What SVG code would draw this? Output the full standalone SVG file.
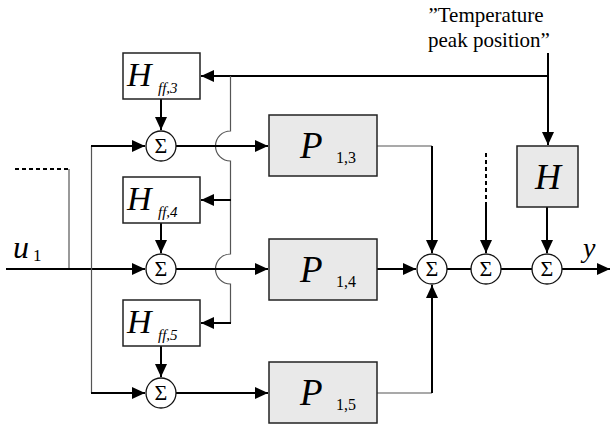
<svg xmlns="http://www.w3.org/2000/svg" width="610" height="425" viewBox="0 0 610 425">
<style>
.box{fill:#ffffff;stroke:#222;stroke-width:1.5}
.gbox{fill:#e9e9e9;stroke:#222;stroke-width:1.5}
.sum{fill:#ffffff;stroke:#111;stroke-width:1.3}
.thick{fill:none;stroke:#000;stroke-width:2}
.thin{fill:none;stroke:#555;stroke-width:1.2}
.dash{fill:none;stroke:#000;stroke-width:2;stroke-dasharray:4 3}
.it{font-family:"Liberation Serif","Times New Roman",Times,serif;font-style:italic;fill:#000}
.rm{font-family:"Liberation Serif","Times New Roman",Times,serif;fill:#000}
.sig{font-family:"Liberation Serif","Times New Roman",Times,serif;font-size:22px;text-anchor:middle;fill:#000}
</style>
<defs>
<marker id="ar" markerWidth="13" markerHeight="12" refX="13" refY="6" orient="auto" markerUnits="userSpaceOnUse">
<path d="M0,0 L13,6 L0,12 Z" fill="#000"/>
</marker>
</defs>

<g id="connectors">
<path class="thick" d="M548,53 V76 H201" marker-end="url(#ar)"/>
<path class="thick" d="M548,76 V145" marker-end="url(#ar)"/>
<path class="thin" d="M230.5,76 V131 A15,15 0 0 0 230.5,161 V254 A15,15 0 0 0 230.5,284 V323"/>
<path class="thick" d="M231,200 H201" marker-end="url(#ar)"/>
<path class="thick" d="M231,323 H201" marker-end="url(#ar)"/>
<path class="thick" d="M161,99 V130" marker-end="url(#ar)"/>
<path class="thick" d="M161,223 V253" marker-end="url(#ar)"/>
<path class="thick" d="M161,346 V377" marker-end="url(#ar)"/>
<path class="dash" d="M15,169 H69"/>
<path class="thin" d="M69,169 V269"/>
<path class="thick" d="M6,269 H145" marker-end="url(#ar)"/>
<path class="thin" d="M91.5,146 V393"/>
<path class="thick" d="M91,146 H145" marker-end="url(#ar)"/>
<path class="thick" d="M91,393 H145" marker-end="url(#ar)"/>
<path class="thick" d="M176,146 H268" marker-end="url(#ar)"/>
<path class="thick" d="M176,269 H268" marker-end="url(#ar)"/>
<path class="thick" d="M176,393 H268" marker-end="url(#ar)"/>
<path class="thin" d="M377,146 H432"/>
<path class="thick" d="M432,146 V253" marker-end="url(#ar)"/>
<path class="thick" d="M377,269 H416" marker-end="url(#ar)"/>
<path class="thin" d="M377,393 H432"/>
<path class="thick" d="M432,393 V285" marker-end="url(#ar)"/>
<path class="thick" d="M447,269 H471"/>
<path class="thick" d="M501,269 H532"/>
<path class="thick" d="M562,269 H610" marker-end="url(#ar)"/>
<path class="dash" d="M486,153 V203"/>
<path class="thick" d="M486,202 V253" marker-end="url(#ar)"/>
<path class="thick" d="M547,207 V253" marker-end="url(#ar)"/>
</g>

<g id="Hff3"><rect class="box" x="123" y="53" width="77" height="46"/>
<text class="it" x="127" y="86" font-size="34">H</text><text class="it" x="158" y="93" font-size="15">ff,3</text></g>
<g id="Hff4"><rect class="box" x="123" y="177" width="77" height="46"/>
<text class="it" x="127" y="210" font-size="34">H</text><text class="it" x="158" y="217" font-size="15">ff,4</text></g>
<g id="Hff5"><rect class="box" x="123" y="300" width="77" height="46"/>
<text class="it" x="127" y="333" font-size="34">H</text><text class="it" x="158" y="340" font-size="15">ff,5</text></g>

<g id="sum1"><circle class="sum" cx="161" cy="146" r="15"/><text class="sig" x="161" y="153">Σ</text></g>
<g id="sum2"><circle class="sum" cx="161" cy="269" r="15"/><text class="sig" x="161" y="276">Σ</text></g>
<g id="sum3"><circle class="sum" cx="161" cy="393" r="15"/><text class="sig" x="161" y="400">Σ</text></g>

<g id="P13"><rect class="gbox" x="269" y="115" width="108" height="61"/>
<text class="it" x="300" y="158" font-size="37">P</text><text class="rm" x="336" y="163" font-size="16">1,3</text></g>
<g id="P14"><rect class="gbox" x="269" y="239" width="108" height="61"/>
<text class="it" x="300" y="282" font-size="37">P</text><text class="rm" x="336" y="287" font-size="16">1,4</text></g>
<g id="P15"><rect class="gbox" x="269" y="362" width="108" height="61"/>
<text class="it" x="300" y="405" font-size="37">P</text><text class="rm" x="336" y="410" font-size="16">1,5</text></g>

<g id="sumA"><circle class="sum" cx="432" cy="269" r="15"/><text class="sig" x="432" y="276">Σ</text></g>
<g id="sumB"><circle class="sum" cx="486" cy="269" r="15"/><text class="sig" x="486" y="276">Σ</text></g>
<g id="sumC"><circle class="sum" cx="547" cy="269" r="15"/><text class="sig" x="547" y="276">Σ</text></g>

<g id="H"><rect class="gbox" x="517" y="146" width="61" height="61"/>
<text class="it" x="548" y="189" font-size="36" text-anchor="middle">H</text></g>

<g id="labels">
<text class="rm" x="486" y="22" font-size="21" text-anchor="middle">”Temperature</text>
<text class="rm" x="489" y="47" font-size="21" text-anchor="middle">peak position”</text>
<text class="it" x="13" y="258" font-size="32">u</text><text class="rm" x="33" y="261" font-size="17">1</text>
<text class="it" x="583" y="257" font-size="28">y</text>
</g>
</svg>
